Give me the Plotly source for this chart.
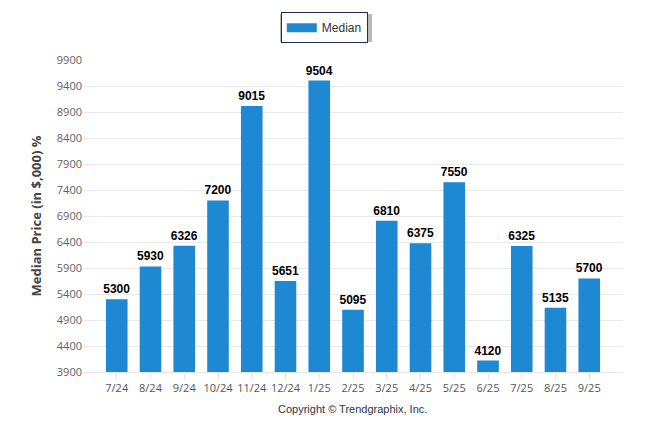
import plotly.graph_objects as go

months = ["7/24", "8/24", "9/24", "10/24", "11/24", "12/24", "1/25", "2/25",
          "3/25", "4/25", "5/25", "6/25", "7/25", "8/25", "9/25"]
median = [5300, 5930, 6326, 7200, 9015, 5651, 9504, 5095,
          6810, 6375, 7550, 4120, 6325, 5135, 5700]
y_ticks = list(range(3900, 9901, 500))

x_idx = list(range(len(months)))
BAR_COLOR = "#1E88D2"

fig = go.Figure()
fig.add_trace(go.Bar(
    x=x_idx, y=median, name="Median",
    marker=dict(color=BAR_COLOR, line=dict(width=0)),
    width=0.64,
    text=[str(v) for v in median], textposition="outside",
    textfont=dict(family="Liberation Sans, Arial", size=12, color="#000000"),
    texttemplate="<b>%{text}</b>",
    constraintext="none",
    cliponaxis=False,
    showlegend=False,
))
# legend entry drawn as a wide rectangle swatch
fig.add_trace(go.Scatter(
    x=[None], y=[None], mode="lines", name="Median",
    line=dict(color=BAR_COLOR, width=9),
    showlegend=True, hoverinfo="skip",
))

fig.update_layout(
    width=646, height=434,
    margin=dict(l=83, r=23, t=60, b=62, autoexpand=False),
    paper_bgcolor="white", plot_bgcolor="white",
    font=dict(family="Open Sans, Liberation Sans, Arial", size=11, color="#606060"),
    showlegend=True,
    legend=dict(orientation="h", x=0.502, xanchor="center", y=0.972, yanchor="top",
                yref="container", xref="container",
                bordercolor="#1F2F4F", borderwidth=1, bgcolor="white",
                itemwidth=30,
                font=dict(family="Liberation Sans, Arial", size=12, color="#333333")),
    xaxis=dict(
        tickmode="array", tickvals=x_idx, ticktext=months,
        range=[-1, 15], showgrid=False, zeroline=False,
        showline=True, linecolor="#E6E6E6", linewidth=1,
        ticks="outside", ticklen=6, tickcolor="#E6E6E6",
        tickfont=dict(size=11, color="#555555"),
    ),
    yaxis=dict(
        range=[3900, 9900], tickmode="array", tickvals=y_ticks,
        ticktext=[str(v) for v in y_ticks],
        showgrid=True, gridcolor="#E9E9E9", gridwidth=1, zeroline=False,
        tickfont=dict(size=11, color="#606060"),
        title=dict(text="<b>Median Price (in $,000) %</b>",
                   font=dict(family="Open Sans, Liberation Sans, Arial", size=13, color="#444444"),
                   standoff=12),
    ),
)

# legend drop shadow
fig.add_shape(type="rect", xref="paper", yref="paper",
              x0=(280 - 83) / 540, x1=(372 - 83) / 540,
              y0=(372 - 42) / 312, y1=(372 - 14) / 312,
              fillcolor="#8A8A8A", line=dict(width=0), layer="above", opacity=0.6)

fig.add_annotation(
    text="Copyright © Trendgraphix, Inc.", xref="paper", yref="paper",
    x=(352 - 83) / 540, y=(372 - 409) / 312, yanchor="middle", showarrow=False,
    font=dict(family="Liberation Sans, Arial", size=11, color="#333344"),
)

fig.write_html("out.html",
               config={"displayModeBar": False},
               post_script="document.body.style.margin='0';document.body.style.overflow='hidden';")
